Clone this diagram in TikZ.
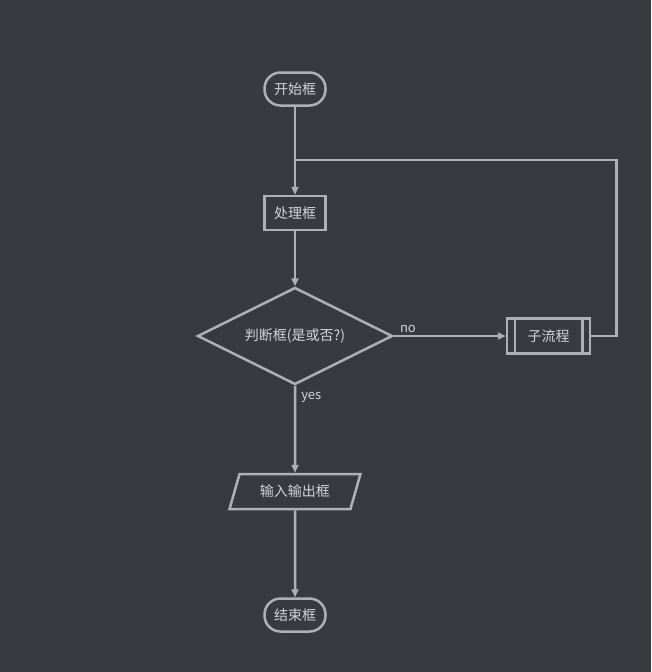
\documentclass[tikz,border=0pt]{standalone}
\usepackage{fontspec}
\newfontfamily\cjk{Noto Sans CJK SC}
\usetikzlibrary{positioning, arrows.meta, shapes.geometric, calc}
\definecolor{bgdark}{HTML}{373B40}
\definecolor{edgegray}{HTML}{ADB0B5}
\definecolor{txtgray}{HTML}{D2D5DA}

\begin{document}
\begin{tikzpicture}[
    line width=2.5pt,
    base/.style={draw=edgegray, text=txtgray, font=\cjk\fontsize{14}{16}\selectfont, inner sep=0pt},
    term/.style={base, rectangle, rounded corners=16pt, minimum width=61pt, minimum height=33pt},
    proc/.style={base, rectangle, minimum width=61pt, minimum height=34pt},
    decide/.style={base, diamond, aspect=2, minimum width=195pt, minimum height=97pt},
    subproc/.style={base, rectangle, minimum width=83pt, minimum height=35pt},
    inout/.style={base, trapezium, trapezium left angle=64, trapezium right angle=116,
                  trapezium stretches=true, minimum width=131pt, minimum height=35pt},
    arr/.style={draw=edgegray, -{Triangle[length=8pt, width=7pt]}},
    lbl/.style={text=txtgray, font=\cjk\fontsize{13}{15}\selectfont, inner sep=2pt}
]
\fill[bgdark] (0,0) rectangle (651pt,-672pt);
\useasboundingbox (0,0) rectangle (651pt,-672pt);

\node[term] (start) at (295pt,-89pt) {开始框};
\node[proc, below=88pt of start] (work) {处理框};
\node[decide, below=55pt of work] (check) {判断框(是或否?)};
\node[subproc, right=112pt of check] (sub) {子流程};
\node[inout, below=87pt of check] (io) {输入输出框};
\node[term, below=87pt of io] (finish) {结束框};

% inner bars of the subprocess box
\draw[edgegray] ([xshift=9pt]sub.north west) -- ([xshift=9pt]sub.south west);
\draw[edgegray] ([xshift=-9pt]sub.north east) -- ([xshift=-9pt]sub.south east);

\coordinate (join) at ($(work.north)+(0,35pt)$);

\draw[arr] (start) -- (work);
\draw[arr] (work) -- (check);
\draw[arr] (check.east) -- node[lbl, pos=0, anchor=south west, xshift=3pt] {no} (sub);
\draw[arr] (check.south) -- node[lbl, pos=0, anchor=north west, xshift=3pt, yshift=-3pt] {yes} (io);
\draw[arr] (io) -- (finish);
\draw[edgegray] (sub.east) -- ++(25pt,0) |- (join);
\end{tikzpicture}
\end{document}
